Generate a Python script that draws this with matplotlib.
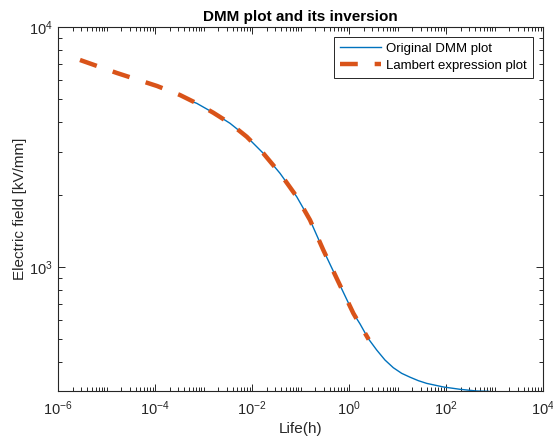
import numpy as np
import matplotlib
matplotlib.use("Agg")
import matplotlib.pyplot as plt
from matplotlib.ticker import FixedLocator, LogFormatterSciNotation, NullFormatter

plt.rcParams['font.family'] = ['Liberation Sans', 'DejaVu Sans']
plt.rcParams['axes.unicode_minus'] = False

# ---- data ----
dmm_life = [4.79e-4, 7.24e-4, 1.59e-3, 3.52e-3, 7.78e-3, 1.71e-2, 3.78e-2, 8.35e-2,
            0.157, 0.295, 0.601, 1.23, 1.69, 2.50, 3.73, 5.52, 8.19, 12.2, 18.1,
            26.9, 40.0, 88, 194, 430, 760]
dmm_field = [4961, 4805, 4390, 3965, 3486, 2972, 2453, 1959,
             1566, 1174, 866, 639, 577, 501, 449, 408, 379, 359, 346,
             334.6, 326, 315, 308, 303, 302]

lambert_life = [2.84e-6, 1.64e-5, 1.10e-4, 3.27e-4, 7.24e-4, 1.59e-3, 3.52e-3, 7.78e-3,
                1.71e-2, 3.78e-2, 8.35e-2, 0.157, 0.295, 0.601, 1.23, 2.55]
lambert_field = [7285, 6428, 5674, 5203, 4805, 4390, 3965, 3486,
                 2972, 2453, 1959, 1566, 1174, 866, 639, 497]

x_major = [1e-6, 1e-4, 1e-2, 1e0, 1e2, 1e4]
y_major = [1e3, 1e4]
xlim = (1e-6, 1e4)
ylim = (303, 1e4)

blue = '#0072BD'
orange = '#D95319'
axcol = '#262626'

fig = plt.figure(figsize=(5.53, 4.41), dpi=100)
ax = fig.add_axes([58/553, 1 - 391/441, (543-58)/553, (391-27)/441])

ax.plot(dmm_life, dmm_field, color=blue, lw=1.0, label='Original DMM plot')
ax.plot(lambert_life, lambert_field, color=orange, lw=3.2,
        linestyle=(0, (4.0, 3.8)), label='Lambert expression plot')

ax.set_xscale('log')
ax.set_yscale('log')
ax.set_xlim(*xlim)
ax.set_ylim(*ylim)

# ticks
ax.xaxis.set_major_locator(FixedLocator(x_major))
xminor = [m * 10.0**k for k in range(-6, 4) for m in range(1, 10)
          if not (m == 1 and 10.0**k in x_major)]
ax.xaxis.set_minor_locator(FixedLocator(xminor))
ax.yaxis.set_major_locator(FixedLocator(y_major))
yminor = [m * 10.0**k for k in range(2, 4) for m in range(2, 10)]
ax.yaxis.set_minor_locator(FixedLocator(yminor))
ax.xaxis.set_major_formatter(LogFormatterSciNotation())
ax.yaxis.set_major_formatter(LogFormatterSciNotation())
ax.xaxis.set_minor_formatter(NullFormatter())
ax.yaxis.set_minor_formatter(NullFormatter())

ax.tick_params(which='both', direction='in', top=True, right=True, colors=axcol,
               labelsize=10.5, width=0.7)
ax.tick_params(which='major', length=5)
ax.tick_params(which='minor', length=3)
ax.tick_params(axis='x', which='major', pad=6)
for s in ax.spines.values():
    s.set_color(axcol)
    s.set_linewidth(0.8)

ax.set_xlabel('Life(h)', fontsize=11, color=axcol, labelpad=3)
ax.set_ylabel('Electric field [kV/mm]', fontsize=11, color=axcol, labelpad=2)
ax.set_title('DMM plot and its inversion', fontsize=11, fontweight='bold', pad=4)

leg = ax.legend(loc='upper right', fontsize=9.5, fancybox=False, framealpha=1,
                edgecolor=axcol, handlelength=3.1, borderaxespad=0.75,
                borderpad=0.45, labelspacing=0.35, handletextpad=0.4)
leg.get_frame().set_linewidth(0.7)

fig.savefig('out.png', dpi=100)
